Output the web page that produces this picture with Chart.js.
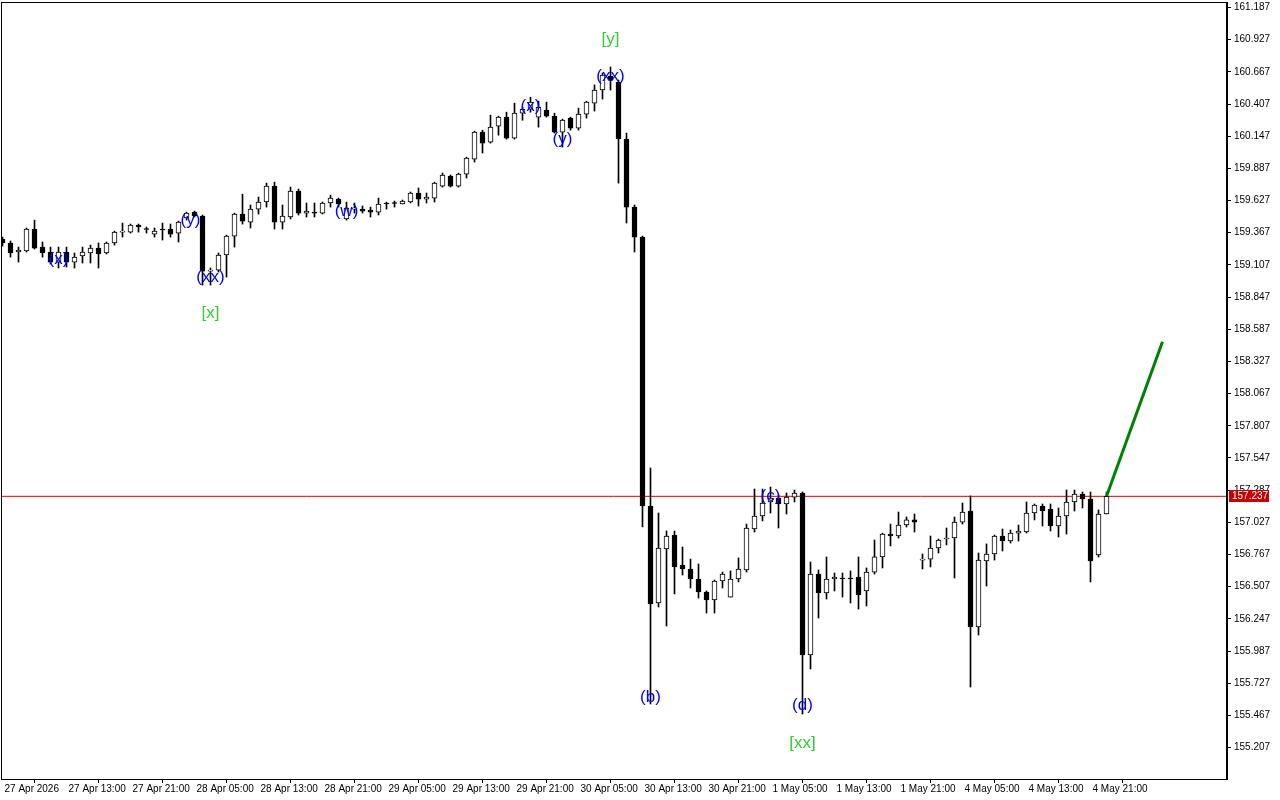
<!DOCTYPE html>
<html>
<head>
<meta charset="utf-8">
<script src="https://cdn.jsdelivr.net/npm/chart.js@4.4.1/dist/chart.umd.min.js"></script>
<style>
  html, body { margin: 0; padding: 0; background: #fff; }
</style>
</head>
<body>
<canvas id="chart" width="1280" height="800"></canvas>
<script>
// hourly candles, index 0 = 27 Apr 05:00
const opens = [159.316,159.284,159.211,159.219,159.397,159.251,159.211,159.130,159.211,159.130,
  159.179,159.203,159.243,159.203,159.284,159.372,159.372,159.429,159.397,159.356,
  159.397,159.397,159.364,159.486,159.534,159.502,159.057,159.065,159.187,159.340,
  159.518,159.453,159.558,159.615,159.744,159.453,159.494,159.704,159.526,159.534,
  159.526,159.607,159.639,159.478,159.558,159.558,159.550,159.534,159.607,159.607,
  159.599,159.615,159.688,159.639,159.647,159.744,159.825,159.744,159.841,159.962,
  160.180,160.099,160.228,160.301,160.131,160.333,160.365,160.301,160.357,160.309,
  160.180,160.293,160.212,160.325,160.414,160.520,160.633,160.585,160.124,159.574,
  159.332,157.159,156.375,156.811,156.924,156.682,156.650,156.569,156.464,156.399,
  156.553,156.423,156.569,156.642,156.973,157.078,157.191,157.223,157.175,157.231,
  157.264,155.955,156.609,156.456,156.569,156.577,156.577,156.585,156.472,156.625,
  156.747,156.932,156.916,157.005,157.046,156.722,156.730,156.819,156.892,156.900,
  157.029,157.118,156.181,156.714,156.771,156.916,156.876,156.940,156.949,157.102,
  157.159,157.134,156.997,157.078,157.191,157.256,157.215,156.763,157.094];
const highs = [159.332,159.300,159.251,159.405,159.469,159.292,159.251,159.251,159.251,159.203,
  159.251,159.267,159.284,159.292,159.380,159.445,159.437,159.437,159.413,159.405,
  159.445,159.437,159.461,159.534,159.542,159.510,159.082,159.203,159.348,159.526,
  159.679,159.591,159.655,159.768,159.776,159.591,159.736,159.720,159.607,159.607,
  159.615,159.671,159.647,159.615,159.607,159.583,159.574,159.647,159.615,159.623,
  159.631,159.696,159.728,159.688,159.776,159.849,159.833,159.849,159.978,160.188,
  160.196,160.317,160.309,160.341,160.414,160.381,160.462,160.430,160.422,160.333,
  160.285,160.301,160.374,160.430,160.561,160.657,160.706,160.601,160.172,159.591,
  159.340,157.466,157.102,156.957,156.957,156.827,156.730,156.690,156.472,156.561,
  156.625,156.634,156.739,157.013,157.296,157.296,157.312,157.248,157.264,157.288,
  157.272,156.706,156.642,156.747,156.617,156.617,156.634,156.747,156.658,156.884,
  156.940,157.013,157.110,157.070,157.094,156.771,156.916,156.892,156.981,157.070,
  157.183,157.240,156.779,156.852,156.924,156.973,156.965,157.005,157.191,157.175,
  157.175,157.175,157.143,157.288,157.288,157.272,157.272,157.127,157.272];
const lows = [159.259,159.170,159.130,159.211,159.235,159.170,159.114,159.082,159.090,159.082,
  159.122,159.122,159.082,159.195,159.267,159.332,159.364,159.372,159.364,159.332,
  159.308,159.332,159.292,159.469,159.494,158.944,158.944,159.049,159.009,159.251,
  159.437,159.405,159.518,159.574,159.397,159.397,159.478,159.510,159.494,159.494,
  159.518,159.574,159.574,159.469,159.526,159.526,159.494,159.510,159.558,159.574,
  159.599,159.607,159.583,159.607,159.615,159.736,159.736,159.736,159.809,159.938,
  160.011,160.091,160.155,160.123,160.123,160.276,160.341,160.220,160.301,160.172,
  160.059,160.196,160.196,160.293,160.350,160.447,160.520,159.768,159.445,159.211,
  156.989,155.559,156.343,156.189,156.448,156.601,156.496,156.415,156.294,156.294,
  156.496,156.423,156.545,156.625,156.949,157.038,157.102,156.981,157.094,157.191,
  155.478,155.842,156.254,156.407,156.472,156.423,156.375,156.326,156.351,156.609,
  156.658,156.836,156.900,156.989,156.949,156.650,156.666,156.779,156.844,156.577,
  157.013,155.696,156.116,156.512,156.722,156.795,156.860,156.876,156.940,157.046,
  156.997,156.957,156.908,156.932,157.118,157.143,156.545,156.747,157.094];
const closes = [159.284,159.203,159.227,159.397,159.243,159.203,159.130,159.211,159.130,159.170,
  159.211,159.243,159.195,159.284,159.372,159.380,159.429,159.413,159.393,159.380,
  159.389,159.356,159.453,159.526,159.502,159.057,159.065,159.187,159.340,159.518,
  159.461,159.558,159.615,159.744,159.453,159.502,159.704,159.526,159.542,159.526,
  159.607,159.647,159.599,159.566,159.566,159.542,159.534,159.599,159.599,159.603,
  159.623,159.688,159.639,159.655,159.768,159.833,159.744,159.841,159.970,160.180,
  160.091,160.220,160.301,160.131,160.333,160.365,160.422,160.381,160.309,160.180,
  160.277,160.212,160.325,160.422,160.520,160.641,160.601,160.124,159.574,159.332,
  157.159,156.367,156.819,156.916,156.666,156.650,156.569,156.464,156.399,156.553,
  156.609,156.569,156.650,156.981,157.078,157.183,157.223,157.175,157.231,157.264,
  155.955,156.609,156.456,156.569,156.585,156.569,156.569,156.440,156.625,156.747,
  156.932,156.916,157.005,157.046,157.029,156.726,156.819,156.884,156.896,157.029,
  157.110,156.181,156.722,156.771,156.916,156.876,156.940,156.957,157.102,157.167,
  157.118,156.997,157.078,157.191,157.256,157.215,156.714,157.094,157.237];

const xTickIndex = [0,8,16,24,32,40,48,56,64,72,80,88,96,104,112,120,128,136];
const xTickLabels = ['27 Apr 2026','27 Apr 13:00','27 Apr 21:00','28 Apr 05:00','28 Apr 13:00',
  '28 Apr 21:00','29 Apr 05:00','29 Apr 13:00','29 Apr 21:00','30 Apr 05:00','30 Apr 13:00',
  '30 Apr 21:00','1 May 05:00','1 May 13:00','1 May 21:00','4 May 05:00','4 May 13:00','4 May 21:00'];
const yTicks = [155.207,155.467,155.727,155.987,156.247,156.507,156.767,157.027,157.287,157.547,
  157.807,158.067,158.327,158.587,158.847,159.107,159.367,159.627,159.887,160.147,160.407,
  160.667,160.927,161.187];

const bidPrice = 157.237;
const projX = [138, 145];
const projY = [157.237, 158.486];

// wave marks: text, candle index, price
const blueText = ['(x)','(y)','(xx)','(w)','(x)','(y)','(xx)','(b)','(c)','(d)'];
const blueIdx = [7, 23.5, 26, 43, 66, 70, 76, 81, 96, 100];
const bluePrice = [159.154, 159.469, 159.009, 159.542, 160.391, 160.124, 160.633, 155.615, 157.240, 155.551];
const greenText = ['[x]','[y]','[xx]'];
const greenIdx = [26, 76, 100];
const greenPrice = [158.718, 160.932, 155.244];

const wicks = opens.map((o, i) => ({ x: i, y: [lows[i], highs[i]] }));
const bodies = opens.map((o, i) => ({ x: i, y: [o, closes[i]] }));
const bodyFill = opens.map((o, i) => closes[i] >= o ? '#ffffff' : '#000000');

const overlay = {
  id: 'overlay',
  afterDatasetsDraw(chart) {
    const ctx = chart.ctx, xs = chart.scales.x, ys = chart.scales.y;
    ctx.save();
    ctx.font = '17px "Liberation Sans", Arial, sans-serif';
    ctx.textAlign = 'center';
    ctx.textBaseline = 'middle';
    ctx.fillStyle = '#0000ff';
    blueText.forEach((t, i) => ctx.fillText(t, xs.getPixelForValue(blueIdx[i]), ys.getPixelForValue(bluePrice[i])));
    ctx.fillStyle = '#32cd32';
    greenText.forEach((t, i) => ctx.fillText(t, xs.getPixelForValue(greenIdx[i]), ys.getPixelForValue(greenPrice[i])));
    ctx.restore();
  },
  afterDraw(chart) {
    const ctx = chart.ctx, a = chart.chartArea, ys = chart.scales.y;
    ctx.save();
    ctx.fillStyle = '#000';
    ctx.fillRect(a.left, a.top, a.right - a.left, 1);
    ctx.fillRect(a.left, a.top, 1, a.bottom - a.top);
    ctx.fillRect(a.left, a.bottom, a.right - a.left + 2, 1);
    ctx.fillRect(a.right, a.top, 2, a.bottom - a.top + 1);
    // bid label
    const py = Math.round(ys.getPixelForValue(bidPrice));
    ctx.fillStyle = '#c80000';
    ctx.fillRect(a.right + 3, py - 6, 40, 12);
    ctx.fillStyle = '#fff';
    ctx.font = '10px "Liberation Sans", Arial, sans-serif';
    ctx.textBaseline = 'middle';
    ctx.textAlign = 'left';
    ctx.fillText(bidPrice.toFixed(3), a.right + 6, py + 0.5);
    ctx.restore();
  }
};

const noPad = s => { s.paddingTop = 0; s.paddingBottom = 0; s.paddingLeft = 0; s.paddingRight = 0; };

new Chart(document.getElementById('chart'), {
  type: 'bar',
  data: {
    datasets: [
      {
        type: 'line', data: [{ x: -1, y: bidPrice }, { x: 160, y: bidPrice }],
        borderColor: '#e00000', borderWidth: 1, pointRadius: 0, order: 5
      },
      {
        data: wicks, backgroundColor: '#000', barThickness: 1, grouped: false, order: 3
      },
      {
        data: bodies, backgroundColor: bodyFill, borderColor: '#000', borderWidth: 1,
        borderSkipped: false, barThickness: 5, minBarLength: 1, grouped: false, order: 2
      },
      {
        type: 'line', data: projX.map((x, i) => ({ x: x, y: projY[i] })),
        borderColor: '#008000', borderWidth: 3, pointRadius: 0, order: 1
      }
    ]
  },
  options: {
    responsive: false,
    animation: false,
    layout: { padding: { left: 1, top: 2, right: 0, bottom: 0 } },
    plugins: { legend: { display: false }, tooltip: { enabled: false } },
    scales: {
      x: {
        type: 'linear', min: -0.1875, max: 152.9375, offset: false,
        afterBuildTicks: s => { s.ticks = xTickIndex.map(v => ({ value: v })); },
        afterFit: s => { s.height = 21; noPad(s); },
        grid: { drawOnChartArea: false, drawTicks: true, tickLength: 4, tickColor: '#000' },
        border: { display: false },
        ticks: {
          autoSkip: false, maxRotation: 0, minRotation: 0, align: 'start', labelOffset: 2, padding: 0,
          color: '#000', font: { family: '"Liberation Sans", Arial, sans-serif', size: 10 },
          callback: v => xTickLabels[xTickIndex.indexOf(v)]
        }
      },
      y: {
        type: 'linear', position: 'right', min: 154.9527, max: 161.2314,
        afterBuildTicks: s => { s.ticks = yTicks.map(v => ({ value: v })); },
        afterFit: s => { s.width = 54; noPad(s); },
        grid: { drawOnChartArea: false, drawTicks: true, tickLength: 5, tickColor: '#000' },
        border: { display: false },
        ticks: {
          padding: 3, color: '#000', font: { family: '"Liberation Sans", Arial, sans-serif', size: 10 },
          callback: v => v.toFixed(3)
        }
      }
    }
  },
  plugins: [overlay]
});
</script>
</body>
</html>
